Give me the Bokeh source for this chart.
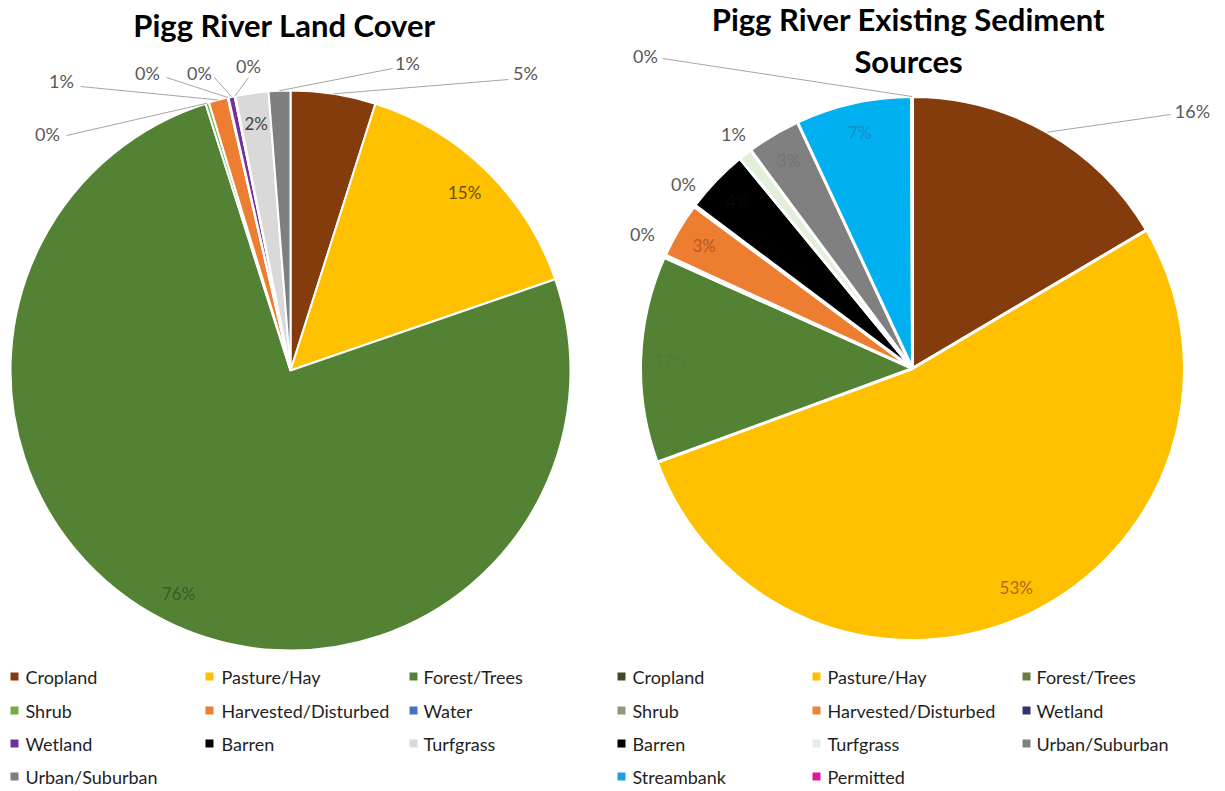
import numpy as np
from bokeh.plotting import figure
from bokeh.models import Range1d, ColumnDataSource
from bokeh.core.properties import value
from bokeh.embed import file_html
from bokeh.resources import INLINE

# ---------------- data ----------------
lc_title = "Pigg River Land Cover"
lc_categories = ["Cropland", "Pasture/Hay", "Forest/Trees", "Shrub", "Harvested/Disturbed",
                 "Water", "Wetland", "Barren", "Turfgrass", "Urban/Suburban"]
lc_values = [4.9, 14.8, 75.3, 0.2, 1.1, 0.05, 0.35, 0.05, 1.9, 1.25]
lc_labels = ["5%", "15%", "76%", "0%", "1%", "0%", "0%", "0%", "2%", "1%"]

sed_title = ["Pigg River Existing Sediment", "Sources"]
sed_categories = ["Cropland", "Pasture/Hay", "Forest/Trees", "Shrub", "Harvested/Disturbed",
                  "Wetland", "Barren", "Turfgrass", "Urban/Suburban", "Streambank", "Permitted"]
sed_values = [16.5, 52.9, 12.3, 0.15, 3.3, 0.1, 3.8, 0.8, 3.2, 6.9, 0.05]
sed_labels = ["16%", "53%", "12%", "0%", "3%", "0%", "4%", "1%", "3%", "7%", "0%"]

# ---------------- styles ----------------
lc_colors = ["#843C0C", "#FFC000", "#548235", "#70AD47", "#ED7D31",
             "#4472C4", "#7030A0", "#000000", "#D9D9D9", "#7F7F7F"]
lc_legend_colors = lc_colors
lc_inside_text = {1: "#6B5000", 2: "#3A5A26", 8: "#404040"}

sed_colors = ["#843C0C", "#FFC000", "#548235", "#70AD47", "#ED7D31",
              "#2E2E6E", "#000000", "#E2EFDA", "#808080", "#00B0F0", "#FF00CC"]
sed_legend_colors = ["#3D4A26", "#FFC000", "#6B7B45", "#8E9C78", "#E8873A",
                     "#333370", "#000000", "#E4EEE4", "#808080", "#1E9FE0", "#E0169E"]
sed_inside_text = {1: "#B8601E", 2: "#4C7C35", 4: "#B85A20", 6: "#080808",
                   8: "#747474", 9: "#1A8CC8"}

FONT = "Lato"
OUT_TEXT = "#595959"
LEADER = "#A6A6A6"

W, H = 1225, 791


def Y(ref_y):
    return H - ref_y


# layout (reference pixel coordinates)
lc_center, lc_radius = (290, 370), 280
sed_center, sed_radius = (912, 368), 272

lc_outside = {0: (525, 72), 3: (47, 133), 4: (61, 80), 5: (147, 72),
              6: (199, 72), 7: (248, 65), 9: (407, 62)}
lc_leader_from = {0: (508, 79), 3: (66, 135), 4: (80, 86), 5: (166, 77),
                  6: (214, 77), 7: (248, 77), 9: (392, 68)}

sed_outside = {0: (1192, 110), 3: (642, 233), 5: (683, 183), 7: (733, 133), 10: (645, 55)}
sed_leader_from = {0: (1170, 114), 10: (662, 58)}

p = figure(width=W, height=H, x_range=Range1d(0, W), y_range=Range1d(0, H),
           output_backend="svg", toolbar_location=None, min_border=0,
           x_axis_type=None, y_axis_type=None)
p.grid.visible = False
p.outline_line_color = None
p.background_fill_color = "white"


def draw_pie(values, labels, colors, center, radius, inside_text, outside, leader_from, line_w):
    v = np.array(values, dtype=float)
    frac = v / v.sum()
    cum = np.concatenate([[0.0], np.cumsum(frac)])
    start = np.pi / 2 - 2 * np.pi * cum[:-1]
    end = np.pi / 2 - 2 * np.pi * cum[1:]
    mid = (start + end) / 2
    cx, cy = center[0], Y(center[1])
    src = ColumnDataSource(dict(start=start, end=end, color=colors))
    p.wedge(x=cx, y=cy, radius=radius, start_angle="start", end_angle="end",
            direction="clock", fill_color="color", line_color="white",
            line_width=line_w, source=src)
    # inside labels
    ix, iy, it, ic = [], [], [], []
    for i, col in inside_text.items():
        ix.append(cx + 0.89 * radius * np.cos(mid[i]))
        iy.append(cy + 0.89 * radius * np.sin(mid[i]))
        it.append(labels[i])
        ic.append(col)
    p.text(x=ix, y=iy, text=it, text_color=ic, text_font=value(FONT),
           text_font_size="17px", text_align="center", text_baseline="middle")
    # leader lines
    x0, y0, x1, y1 = [], [], [], []
    for i, (lx, ly) in leader_from.items():
        x0.append(lx)
        y0.append(Y(ly))
        x1.append(cx + radius * np.cos(mid[i]))
        y1.append(cy + radius * np.sin(mid[i]))
    if x0:
        p.segment(x0=x0, y0=y0, x1=x1, y1=y1, line_color=LEADER, line_width=1)
    # outside labels
    ox = [outside[i][0] for i in outside]
    oy = [Y(outside[i][1]) for i in outside]
    ot = [labels[i] for i in outside]
    p.text(x=ox, y=oy, text=ot, text_color=OUT_TEXT, text_font=value(FONT),
           text_font_size="18px", text_align="center", text_baseline="middle")


draw_pie(lc_values, lc_labels, lc_colors, lc_center, lc_radius,
         lc_inside_text, lc_outside, lc_leader_from, 2)
draw_pie(sed_values, sed_labels, sed_colors, sed_center, sed_radius,
         sed_inside_text, sed_outside, sed_leader_from, 3)

# titles
p.text(x=[284], y=[Y(24)], text=[lc_title], text_font=value(FONT), text_font_style="bold",
       text_font_size="31px", text_color="black", text_align="center", text_baseline="middle")
p.text(x=[908, 908], y=[Y(18), Y(60)], text=sed_title, text_font=value(FONT),
       text_font_style="bold", text_font_size="31px", text_color="black",
       text_align="center", text_baseline="middle")


# legends
def draw_legend(categories, colors, marker_x, text_x, row_y):
    mx, my, tx, ty = [], [], [], []
    for i, c in enumerate(categories):
        col, row = i % 3, i // 3
        mx.append(marker_x[col])
        my.append(Y(row_y[row]))
        tx.append(text_x[col])
        ty.append(Y(row_y[row]))
    p.scatter(x=mx, y=my, marker="square", size=8, fill_color=colors, line_color=None)
    p.text(x=tx, y=ty, text=categories, text_font=value(FONT), text_font_size="18px",
           text_color="#1F1F1F", text_align="left", text_baseline="middle")


rows = [676, 710, 743, 776]
draw_legend(lc_categories, lc_legend_colors, [14, 209, 413], [25, 221, 423], rows)
draw_legend(sed_categories, sed_legend_colors, [621, 816, 1026], [632, 827, 1036], rows)

open("out.html", "w").write(file_html(p, INLINE))
